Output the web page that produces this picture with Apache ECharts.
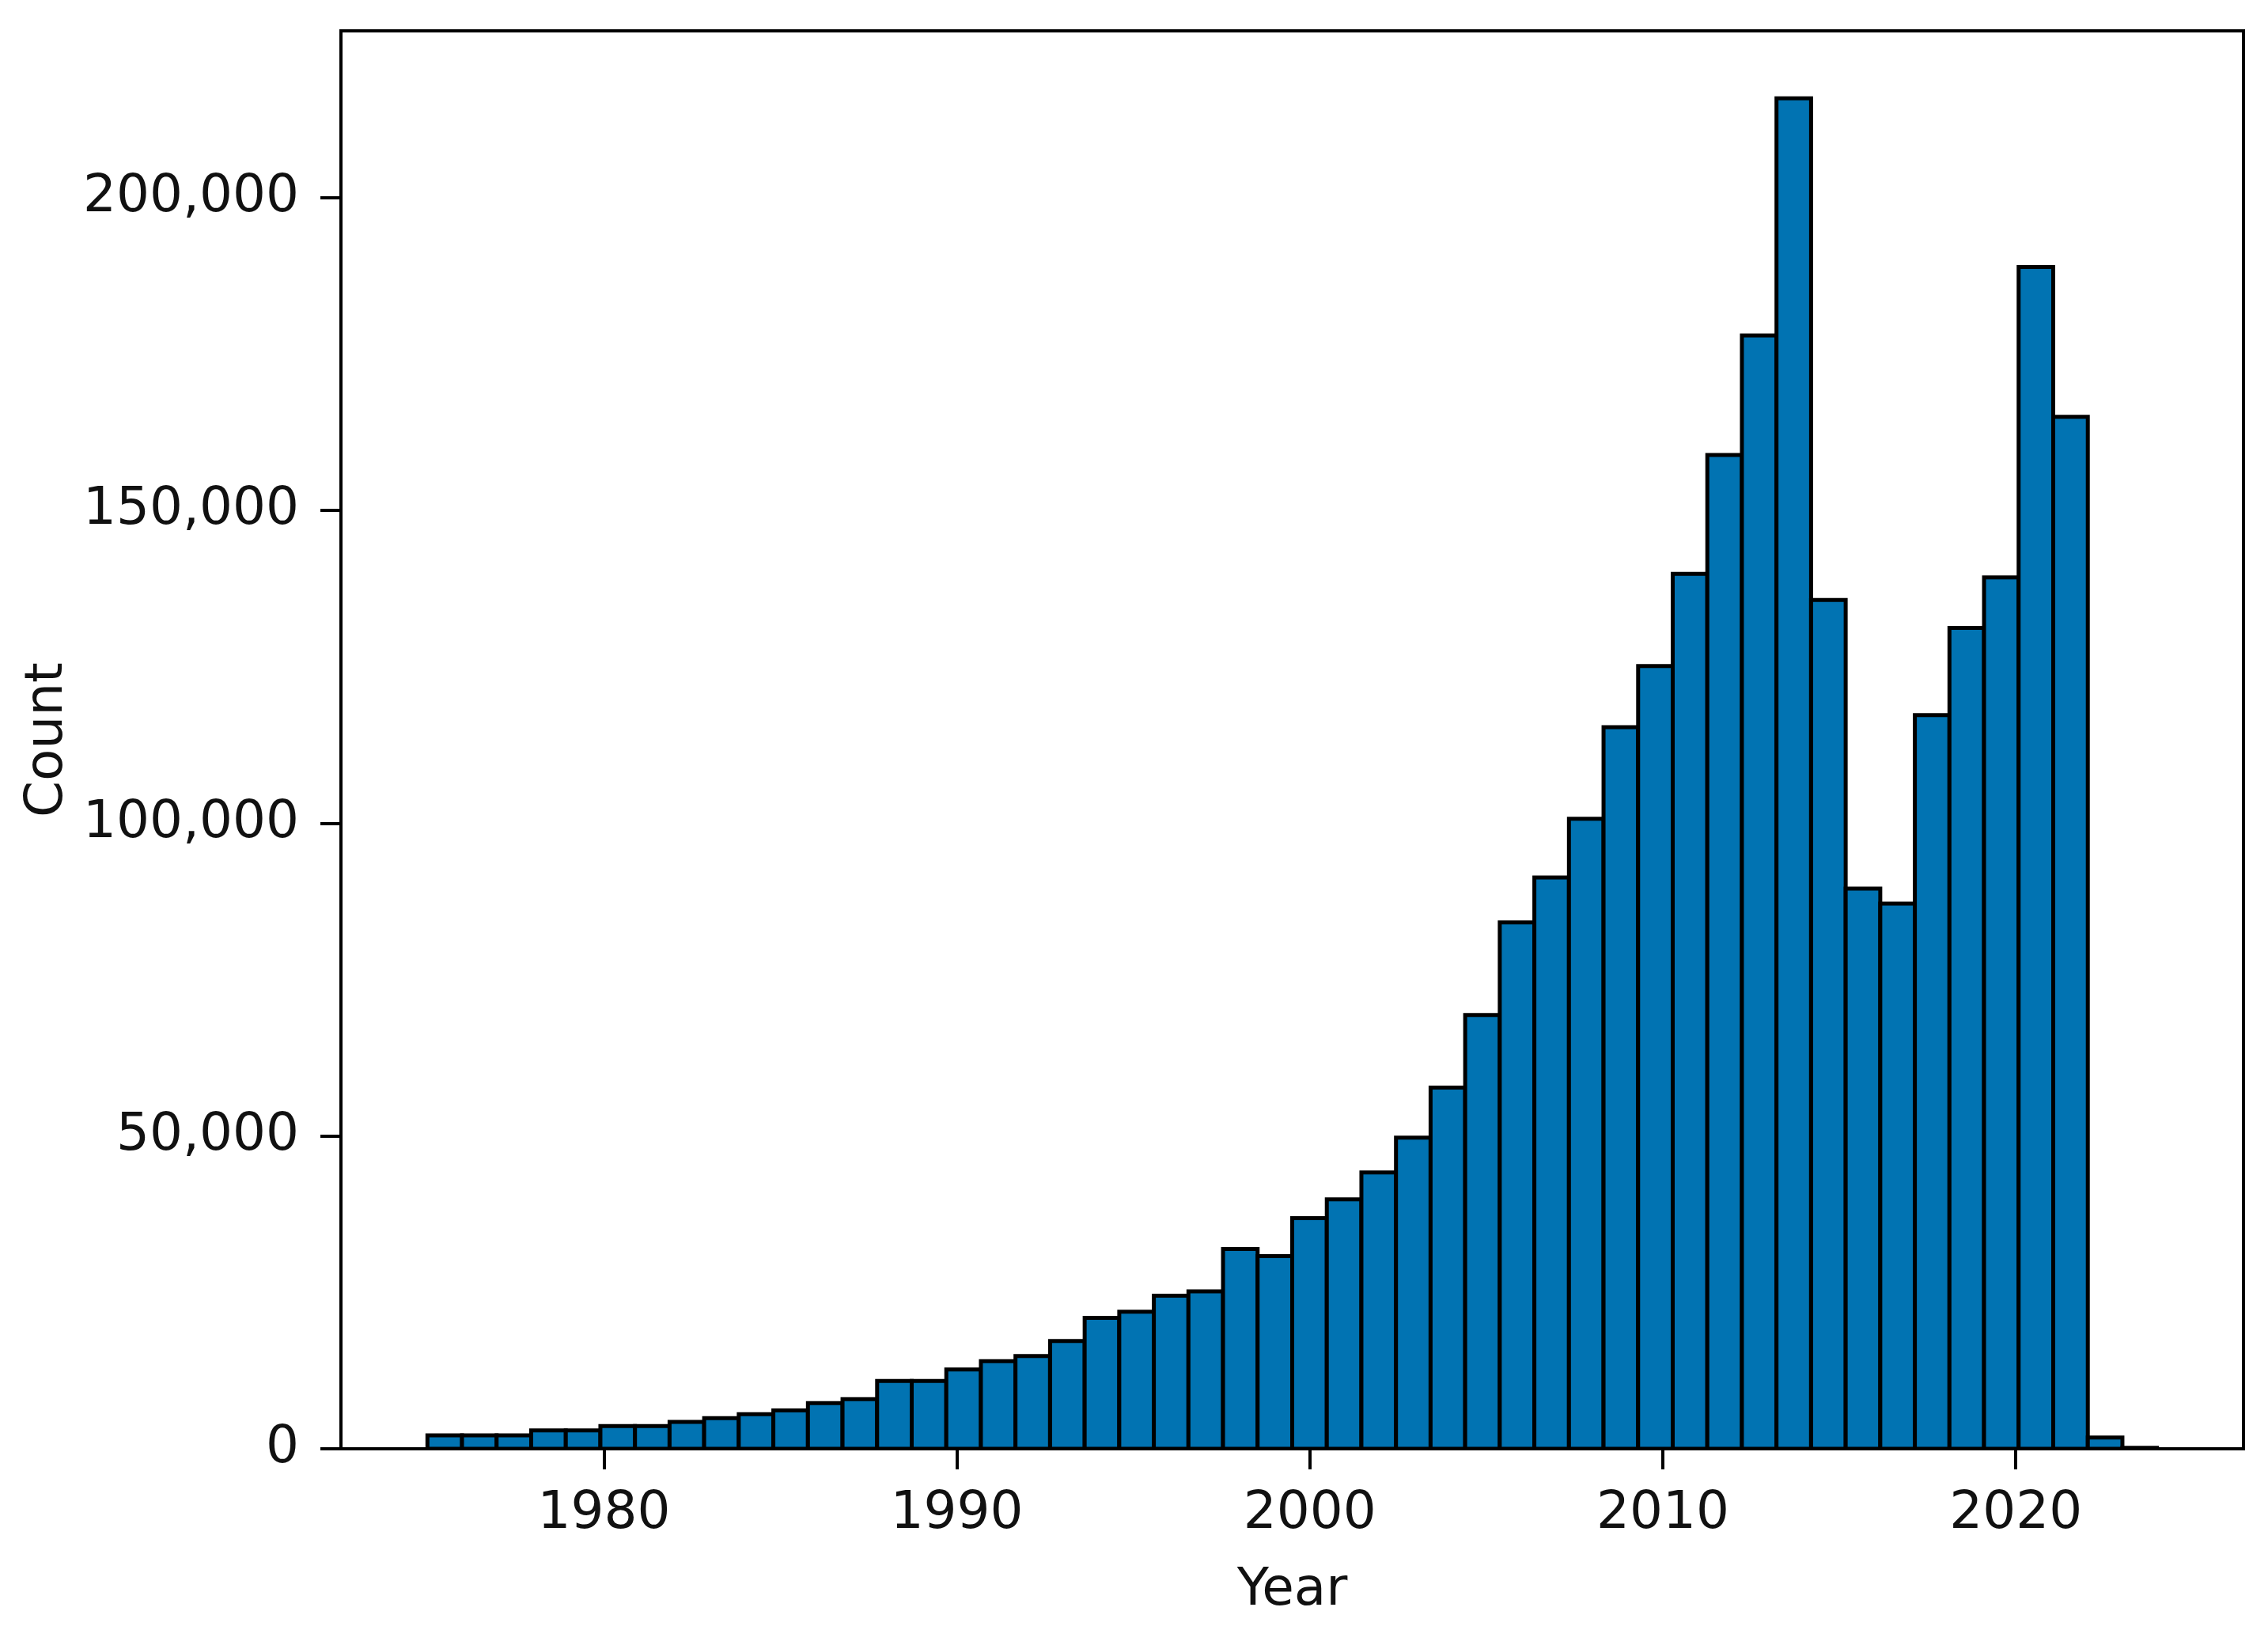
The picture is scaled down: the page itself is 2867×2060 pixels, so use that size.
<!DOCTYPE html>
<html>
<head>
<meta charset="utf-8">
<script src="https://cdn.jsdelivr.net/npm/echarts@6/dist/echarts.min.js"></script>
<style>
html,body{margin:0;padding:0;background:#fff;}
#chart{width:2867px;height:2060px;}
</style>
</head>
<body>
<div id="chart"></div>
<script>
// Years (one histogram bin each) and counts
const years = [1975,1976,1977,1978,1979,1980,1981,1982,1983,1984,1985,1986,1987,1988,1989,
  1990,1991,1992,1993,1994,1995,1996,1997,1998,1999,2000,2001,2002,2003,2004,2005,2006,2007,
  2008,2009,2010,2011,2012,2013,2014,2015,2016,2017,2018,2019,2020,2021,2022,2023,2024];
const counts = [2150,2150,2150,2950,2950,3630,3630,4310,4900,5530,6120,7300,7940,10850,10850,
  12670,14000,14820,17230,20920,21920,24480,25180,31940,30790,36860,39860,44170,49730,57730,
  69360,84140,91310,100710,115350,125140,139870,158870,177970,215870,135700,89560,87140,
  117290,131240,139290,188920,164970,1800,150];
const xTickValues = [1980, 1990, 2000, 2010, 2020];
const yTickValues = [0, 50000, 100000, 150000, 200000];

const nBins = years.length;
const firstYear = years[0], lastYear = years[nBins - 1];
const binWidth = (lastYear - firstYear) / nBins;
const span = lastYear - firstYear;
const xMin = firstYear - 0.05 * span;
const xMax = lastYear + 0.05 * span;
const yMax = 1.05 * Math.max(...counts);

const binData = counts.map((c, i) => [firstYear + i * binWidth, firstYear + (i + 1) * binWidth, c]);

const FONT = 'DejaVu Sans';
const TXT = '#111';

const chart = echarts.init(document.getElementById('chart'), null, {renderer: 'canvas'});
chart.setOption({
  animation: false,
  backgroundColor: '#ffffff',
  grid: {
    left: 431, right: 31, top: 39, bottom: 229,
    show: true, borderColor: '#000', borderWidth: 4, backgroundColor: 'transparent'
  },
  xAxis: {
    type: 'value', min: xMin, max: xMax,
    name: 'Year', nameLocation: 'middle', nameGap: 147,
    nameTextStyle: {fontFamily: FONT, fontSize: 66, color: TXT},
    axisLine: {show: true, onZero: false, lineStyle: {color: '#000', width: 4}},
    axisTick: {show: true, length: 26, lineStyle: {color: '#000', width: 4}, customValues: xTickValues},
    axisLabel: {show: true, margin: 50, fontFamily: FONT, fontSize: 66, color: TXT, customValues: xTickValues,
      formatter: v => String(v)},
    splitLine: {show: false}
  },
  yAxis: {
    type: 'value', min: 0, max: yMax,
    name: 'Count', nameLocation: 'middle', nameGap: 335, nameRotate: 90,
    nameTextStyle: {fontFamily: FONT, fontSize: 66, color: TXT},
    axisLine: {show: true, lineStyle: {color: '#000', width: 4}},
    axisTick: {show: true, length: 26, lineStyle: {color: '#000', width: 4}, customValues: yTickValues},
    axisLabel: {show: true, margin: 53, fontFamily: FONT, fontSize: 66, color: TXT, customValues: yTickValues,
      formatter: v => Number(v).toLocaleString('en-US')},
    splitLine: {show: false}
  },
  series: [{
    type: 'custom',
    data: binData,
    encode: {x: [0, 1], y: 2},
    clip: true,
    renderItem: function (params, api) {
      const x0 = api.value(0), x1 = api.value(1), y = api.value(2);
      const pTop = api.coord([x0, y]);
      const pBot = api.coord([x1, 0]);
      return {
        type: 'rect',
        shape: {x: pTop[0], y: pTop[1], width: pBot[0] - pTop[0], height: pBot[1] - pTop[1]},
        style: {fill: '#0173B2', stroke: '#000', lineWidth: 5}
      };
    }
  }]
});
</script>
</body>
</html>
